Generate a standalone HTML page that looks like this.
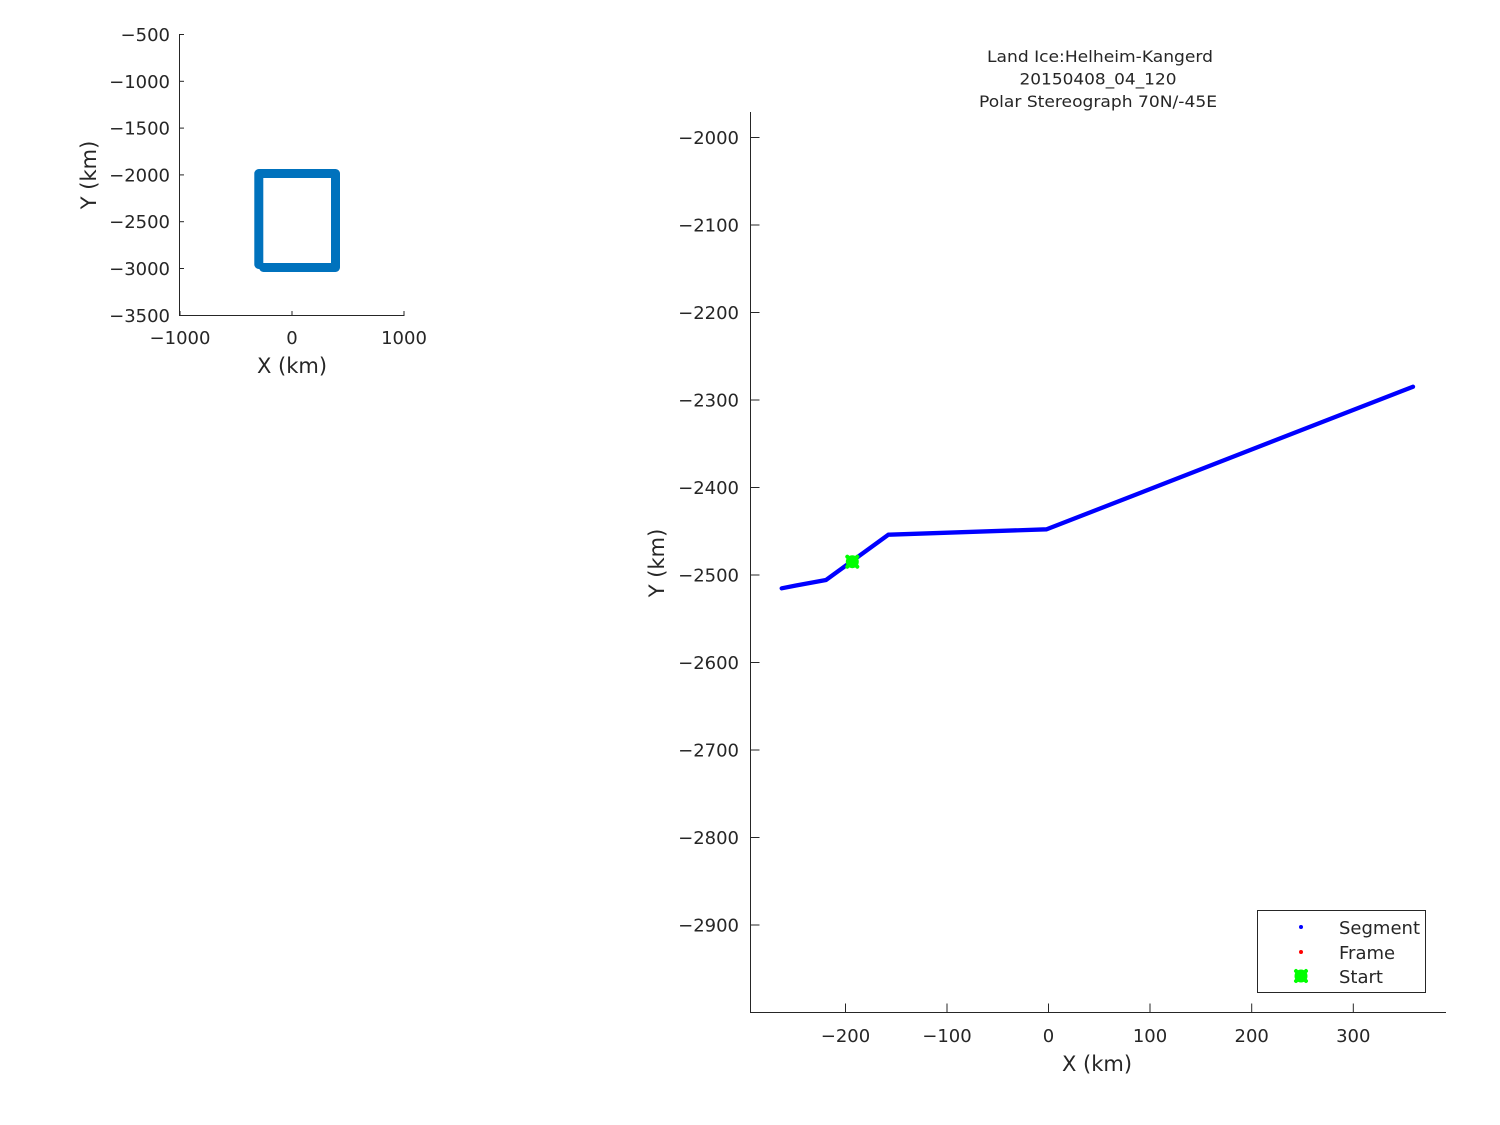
<!DOCTYPE html>
<html>
<head>
<meta charset="utf-8">
<style>
html,body{margin:0;padding:0;background:#fff;}
svg{display:block;}
text{font-family:"DejaVu Sans","Liberation Sans",sans-serif;fill:#262626;}
</style>
</head>
<body>
<svg width="1500" height="1125" viewBox="0 0 1500 1125" xmlns="http://www.w3.org/2000/svg">
<rect width="1500" height="1125" fill="#fff"/>

<!-- ===== Small axes ===== -->
<g stroke="#262626" stroke-width="1" fill="none">
  <line x1="179.5" y1="34" x2="179.5" y2="315.5"/>
  <line x1="179" y1="315.5" x2="404.5" y2="315.5"/>
  <line x1="179.5" y1="34.5" x2="184" y2="34.5"/>
  <line x1="179.5" y1="81.3" x2="184" y2="81.3"/>
  <line x1="179.5" y1="128.1" x2="184" y2="128.1"/>
  <line x1="179.5" y1="174.9" x2="184" y2="174.9"/>
  <line x1="179.5" y1="221.7" x2="184" y2="221.7"/>
  <line x1="179.5" y1="268.5" x2="184" y2="268.5"/>
  <line x1="180" y1="315.5" x2="180" y2="311"/>
  <line x1="292" y1="315.5" x2="292" y2="311"/>
  <line x1="404" y1="315.5" x2="404" y2="311"/>
</g>
<g font-size="18" text-anchor="end">
  <text x="170" y="41">−500</text>
  <text x="170" y="88">−1000</text>
  <text x="170" y="134.5">−1500</text>
  <text x="170" y="181.5">−2000</text>
  <text x="170" y="228">−2500</text>
  <text x="170" y="275">−3000</text>
  <text x="170" y="322">−3500</text>
</g>
<g font-size="18" text-anchor="middle">
  <text x="180" y="344">−1000</text>
  <text x="292" y="344">0</text>
  <text x="404" y="344">1000</text>
</g>
<text x="292" y="373" font-size="21" text-anchor="middle">X (km)</text>
<text transform="translate(96,175) rotate(-90)" font-size="21" text-anchor="middle">Y (km)</text>
<path d="M258.8 264.5 L258.8 173.5 L335.5 173.5 L335.5 267.5 L263.5 267.5" fill="none" stroke="#0072BD" stroke-width="9" stroke-linejoin="round" stroke-linecap="round"/>

<!-- ===== Big axes ===== -->
<g font-size="16" text-anchor="middle">
  <text x="1100" y="62" textLength="226" lengthAdjust="spacingAndGlyphs">Land Ice:Helheim-Kangerd</text>
  <text x="1098" y="84.5" textLength="157" lengthAdjust="spacingAndGlyphs">20150408_04_120</text>
  <text x="1098" y="107" textLength="238" lengthAdjust="spacingAndGlyphs">Polar Stereograph 70N/-45E</text>
</g>
<g stroke="#262626" stroke-width="1" fill="none">
  <line x1="750.5" y1="112" x2="750.5" y2="1012.5"/>
  <line x1="750" y1="1012.5" x2="1446" y2="1012.5"/>
</g>
<g stroke="#262626" stroke-width="1">
  <line x1="750.5" y1="137.5" x2="759.5" y2="137.5"/>
  <line x1="750.5" y1="225" x2="759.5" y2="225"/>
  <line x1="750.5" y1="312.5" x2="759.5" y2="312.5"/>
  <line x1="750.5" y1="400" x2="759.5" y2="400"/>
  <line x1="750.5" y1="487.5" x2="759.5" y2="487.5"/>
  <line x1="750.5" y1="575" x2="759.5" y2="575"/>
  <line x1="750.5" y1="662.5" x2="759.5" y2="662.5"/>
  <line x1="750.5" y1="750" x2="759.5" y2="750"/>
  <line x1="750.5" y1="837.5" x2="759.5" y2="837.5"/>
  <line x1="750.5" y1="925" x2="759.5" y2="925"/>
  <line x1="845.5" y1="1012.5" x2="845.5" y2="1003.5"/>
  <line x1="947" y1="1012.5" x2="947" y2="1003.5"/>
  <line x1="1048.5" y1="1012.5" x2="1048.5" y2="1003.5"/>
  <line x1="1150" y1="1012.5" x2="1150" y2="1003.5"/>
  <line x1="1251.7" y1="1012.5" x2="1251.7" y2="1003.5"/>
  <line x1="1353.3" y1="1012.5" x2="1353.3" y2="1003.5"/>
</g>
<g font-size="18" text-anchor="end">
  <text x="739" y="144">−2000</text>
  <text x="739" y="231.5">−2100</text>
  <text x="739" y="319">−2200</text>
  <text x="739" y="406.5">−2300</text>
  <text x="739" y="494">−2400</text>
  <text x="739" y="581.5">−2500</text>
  <text x="739" y="669">−2600</text>
  <text x="739" y="756.5">−2700</text>
  <text x="739" y="844">−2800</text>
  <text x="739" y="931.5">−2900</text>
</g>
<g font-size="18" text-anchor="middle">
  <text x="845.5" y="1042">−200</text>
  <text x="947" y="1042">−100</text>
  <text x="1048.5" y="1042">0</text>
  <text x="1150" y="1042">100</text>
  <text x="1251.7" y="1042">200</text>
  <text x="1353.3" y="1042">300</text>
</g>
<text x="1097" y="1071" font-size="21" text-anchor="middle">X (km)</text>
<text transform="translate(664,563) rotate(-90)" font-size="21" text-anchor="middle">Y (km)</text>

<!-- data line -->
<polyline points="781.7,588.3 796,585.5 826,580 888.3,534.7 1046.7,529.3 1413,386.7" fill="none" stroke="#0000FF" stroke-width="4.3" stroke-linejoin="round" stroke-linecap="round"/>
<!-- start marker -->
<g transform="translate(852.3,561.7)" fill="#00FF00">
  <circle r="6.5"/>
  <line x1="-5" y1="-5" x2="5" y2="5" stroke="#00FF00" stroke-width="4" stroke-linecap="round"/>
  <line x1="-5" y1="5" x2="5" y2="-5" stroke="#00FF00" stroke-width="4" stroke-linecap="round"/>
</g>

<!-- legend -->
<rect x="1257.5" y="910.5" width="168" height="82" fill="#fff" stroke="#262626" stroke-width="1"/>
<circle cx="1301" cy="927" r="2" fill="#0000FF"/>
<circle cx="1301" cy="952" r="2" fill="#FF0000"/>
<g transform="translate(1301,976)" fill="#00FF00">
  <circle r="6.5"/>
  <line x1="-5" y1="-5" x2="5" y2="5" stroke="#00FF00" stroke-width="4" stroke-linecap="round"/>
  <line x1="-5" y1="5" x2="5" y2="-5" stroke="#00FF00" stroke-width="4" stroke-linecap="round"/>
</g>
<g font-size="18">
  <text x="1339" y="934">Segment</text>
  <text x="1339" y="959">Frame</text>
  <text x="1339" y="983">Start</text>
</g>
</svg>
</body>
</html>
